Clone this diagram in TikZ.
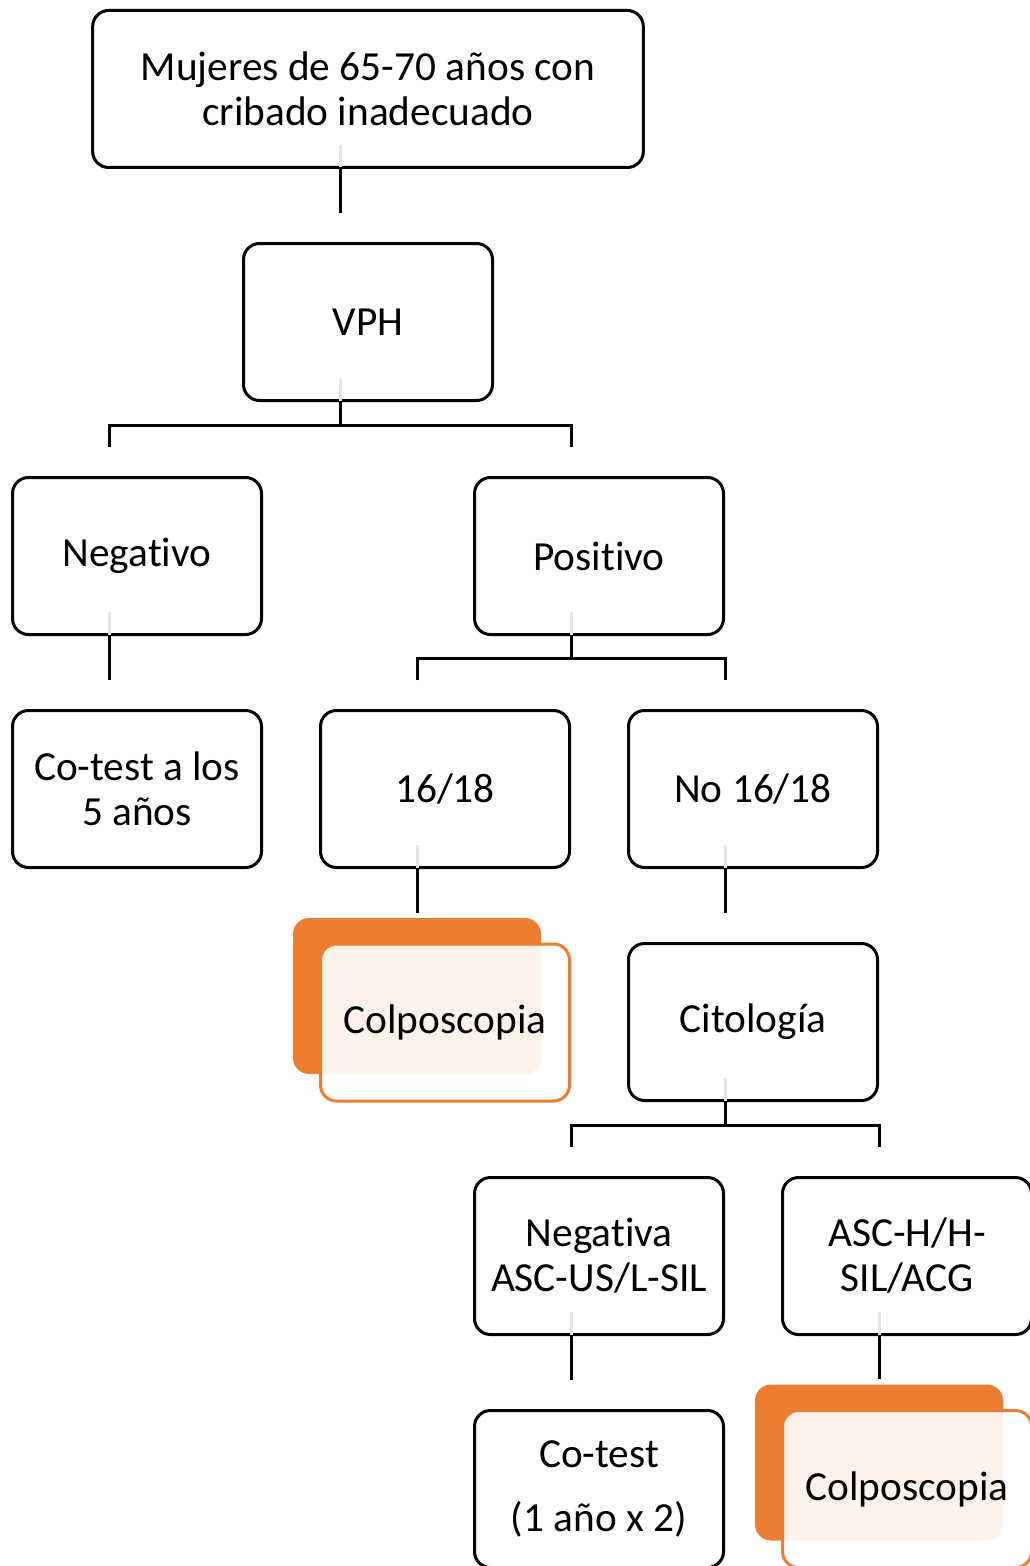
\documentclass[tikz,border=0pt]{standalone}
\usepackage{fontspec}
\setmainfont[Ligatures={NoCommon}]{Carlito}
\usetikzlibrary{calc}
\definecolor{orng}{HTML}{ED7D31}
\definecolor{faintg}{HTML}{E4E4E4}
\tikzset{
  box/.style={draw=black, line width=2.25pt, rounded corners=12pt, fill=white,
    minimum width=186.75pt, minimum height=117.75pt, inner sep=0pt, align=center,
    font=\fontsize{31}{33.75}\selectfont},
  backbox/.style={fill=orng, draw=none, rounded corners=12pt,
    minimum width=186pt, minimum height=117pt, inner sep=0pt},
  frontbox/.style={box, draw=orng, fill=white, fill opacity=0.9, text opacity=1},
  conn/.style={draw=black, line width=2.25pt},
  faint/.style={draw=faintg, line width=2.25pt},
}
\begin{document}
\begin{tikzpicture}[x=0.75pt, y=-0.75pt]
\useasboundingbox (0,0) rectangle (1030,1566);
\clip (0,0) rectangle (1030,1566);
% nodes
\node[box, minimum width=413pt] (top) at (368,89) {Mujeres de 65-70 años con\\cribado inadecuado};
\node[box] (vph) at (368,322) {VPH};
\node[box] (neg) at (137,556) {Negativo};
\node[box] (pos) at (599,556) {Positivo};
\node[box] (cot5) at (137,789) {Co-test a los\\5 años};
\node[box] (n1618) at (445,789) {16/18};
\node[box] (no1618) at (753,789) {No 16/18};
\node[backbox] (colpoAback) at (417,996) {};
\node[frontbox] (colpoA) at (445,1022.5) {Colposcopia};
\node[box] (cito) at (753,1022) {Citología};
\node[box] (nega) at (599,1256) {Negativa\\ASC-US/L-SIL};
\node[box] (asch) at (907,1256) {ASC-H/H-\\SIL/ACG};
\node[box] (cot2) at (599,1489) {Co-test\\[0.45em](1 año x 2)};
\node[backbox] (colpoBback) at (879,1462.5) {};
\node[frontbox] (colpoB) at (907,1489) {Colposcopia};
% faint segments inside parents
\foreach \n in {top,vph,neg,pos,n1618,no1618,cito,nega,asch}{
  \draw[faint] ($(\n.south)+(-28,-24)$) -- ($(\n.south)+(-28,-1.5)$);
}
% single-child connectors
\draw[conn] ($(top.south)+(-28,0)$) -- ($(vph.north)+(-28,-29)$);
\draw[conn] ($(neg.south)+(-28,0)$) -- ($(cot5.north)+(-28,-29)$);
\draw[conn] ($(n1618.south)+(-28,0)$) -- ($(colpoAback.north)+(0,-5)$);
\draw[conn] ($(no1618.south)+(-28,0)$) -- ($(cito.north)+(-28,-29)$);
\draw[conn] ($(nega.south)+(-28,0)$) -- ($(cot2.north)+(-28,-29)$);
\draw[conn] ($(asch.south)+(-28,0)$) -- ($(colpoBback.north)+(0,-5)$);
% branching connectors
\draw[conn] ($(vph.south)+(-28,0)$) -- ++(0,23);
\draw[conn] ($(neg.north)+(-28,-29)$) -- ++(0,-22) -| ($(pos.north)+(-28,-29)$);
\draw[conn] ($(pos.south)+(-28,0)$) -- ++(0,23);
\draw[conn] ($(n1618.north)+(-28,-29)$) -- ++(0,-22) -| ($(no1618.north)+(-28,-29)$);
\draw[conn] ($(cito.south)+(-28,0)$) -- ++(0,23);
\draw[conn] ($(nega.north)+(-28,-29)$) -- ++(0,-22) -| ($(asch.north)+(-28,-29)$);
\end{tikzpicture}
\end{document}
